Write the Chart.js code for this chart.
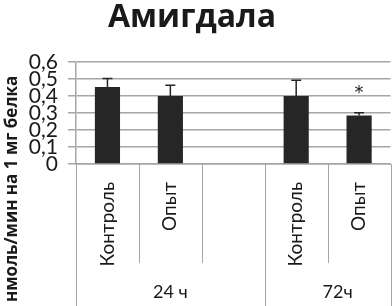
<!DOCTYPE html>
<html>
<head>
<meta charset="utf-8">
<script src="https://cdn.jsdelivr.net/npm/chart.js@4"></script>
<style>
  html, body { margin: 0; padding: 0; background: #fff; }
  #wrap { width: 392px; height: 306px; position: relative; }
</style>
</head>
<body>
<div id="wrap"><canvas id="amygdala"></canvas></div>
<script>
// Data
const categories = ['Контроль', 'Опыт', '', 'Контроль', 'Опыт'];
const values = [0.453, 0.40, null, 0.40, 0.286];
const errors = [0.05, 0.063, null, 0.093, 0.015];
const groups = ['24 ч', '72ч'];
const groupSpans = [3, 2];   // how many categories each group covers
const significant = [false, false, false, false, true];

const barColor = '#262626';
const gridColor = '#a6a6a6';
const textColor = '#1a1a1a';

// Error bars (upper only), asterisk, title and the grouped axis
const extrasPlugin = {
    id: 'extras',
    afterDatasetsDraw(chart) {
        const ctx = chart.ctx;
        const x = chart.scales.x;
        const y = chart.scales.y;
        ctx.save();
        ctx.strokeStyle = barColor;
        ctx.lineWidth = 1.5;
        values.forEach((v, i) => {
            if (v === null) return;
            const cx = x.getPixelForValue(i);
            const top = y.getPixelForValue(v + errors[i]);
            ctx.beginPath();
            ctx.moveTo(cx, y.getPixelForValue(v));
            ctx.lineTo(cx, top);
            ctx.moveTo(cx - 5, top);
            ctx.lineTo(cx + 5, top);
            ctx.stroke();
            if (significant[i]) {
                ctx.fillStyle = textColor;
                ctx.font = '18px "DejaVu Sans"';
                ctx.textAlign = 'center';
                ctx.textBaseline = 'middle';
                ctx.fillText('*', cx, y.getPixelForValue(0.43) + 2);
            }
        });

        // category and group separators below the axis
        const area = chart.chartArea;
        const step = x.getPixelForValue(1) - x.getPixelForValue(0);
        ctx.strokeStyle = gridColor;
        ctx.lineWidth = 1;
        let boundaries = [0];
        groupSpans.reduce((acc, n) => { boundaries.push(acc + n); return acc + n; }, 0);
        for (let i = 0; i <= categories.length; i++) {
            const px = Math.round(x.getPixelForValue(i) - step / 2) + 0.5;
            const isGroup = boundaries.includes(i);
            ctx.beginPath();
            ctx.moveTo(px, area.bottom);
            ctx.lineTo(px, isGroup ? chart.height : area.bottom + 99);
            ctx.stroke();
        }

        // group labels
        ctx.fillStyle = textColor;
        ctx.font = '18px Lato';
        ctx.textAlign = 'center';
        ctx.textBaseline = 'middle';
        let start = 0;
        groups.forEach((g, k) => {
            const left = x.getPixelForValue(start) - step / 2;
            const right = x.getPixelForValue(start + groupSpans[k] - 1) + step / 2;
            ctx.fillText(g, (left + right) / 2 + (k === 1 ? 10 : 0), 292);
            start += groupSpans[k];
        });

        // title
        ctx.font = 'bold 32px "Open Sans"';
        ctx.fillText('Амигдала', 192, 18);

        // y axis title, rotated and clipped on the left like in the original
        ctx.save();
        ctx.translate(12, 302);
        ctx.rotate(-Math.PI / 2);
        ctx.font = 'bold 17px "Open Sans"';
        ctx.textAlign = 'left';
        ctx.fillText('нмоль/мин на 1 мг белка', 0, 0);
        ctx.restore();
        ctx.restore();
    }
};

const chart = new Chart(document.getElementById('amygdala'), {
    type: 'bar',
    plugins: [extrasPlugin],
    data: {
        labels: categories,
        datasets: [{
            data: values,
            backgroundColor: barColor,
            barPercentage: 0.4,
            categoryPercentage: 1.0,
        }],
    },
    options: {
        responsive: true,
        maintainAspectRatio: false,
        animation: false,
        layout: { padding: { top: 62, right: 1, left: 0, bottom: 0 } },
        plugins: {
            legend: { display: false },
            tooltip: { enabled: false },
        },
        scales: {
            x: {
                grid: { display: false },
                border: { color: gridColor, width: 1.5 },
                ticks: {
                    color: textColor,
                    font: { family: 'Lato', size: 19 },
                    minRotation: 90,
                    maxRotation: 90,
                    autoSkip: false,
                    padding: 10,
                },
                afterFit: (scale) => { scale.height = 142; },
            },
            y: {
                min: 0,
                max: 0.6,
                grid: { color: gridColor, lineWidth: 1.5, tickLength: 8 },
                border: { color: gridColor, width: 1.5 },
                ticks: {
                    stepSize: 0.1,
                    autoSkip: false,
                    color: textColor,
                    padding: 10,
                    font: { family: 'Lato', size: 21 },
                    callback: (v) => v === 0 ? '0' : v.toFixed(1).replace('.', ','),
                },
                afterFit: (scale) => { scale.width = 76; },
            },
        },
    },
});
</script>
</body>
</html>
